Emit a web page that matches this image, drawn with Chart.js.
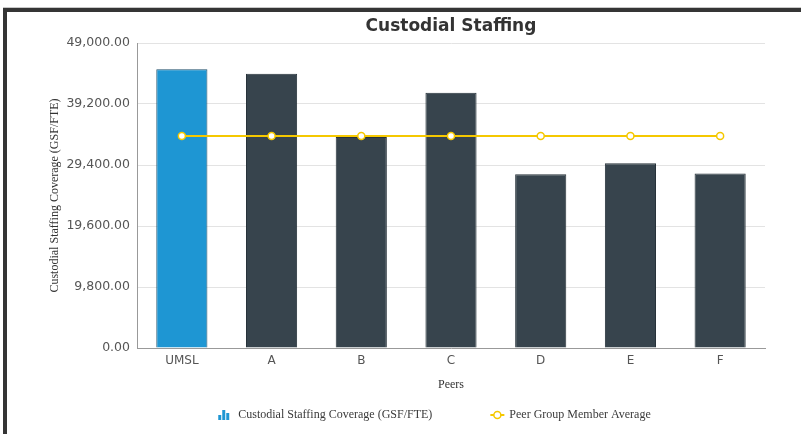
<!DOCTYPE html>
<html>
<head>
<meta charset="utf-8">
<title>Custodial Staffing</title>
<script src="https://cdn.jsdelivr.net/npm/chart.js@4.4.0/dist/chart.umd.min.js"></script>
<style>
    html, body { margin: 0; padding: 0; background: #fff; }
    #edge { position: absolute; left: 3px; top: 7px; width: 798px; height: 1px; background: #c8c8c8; }
    #frame { position: absolute; left: 3px; top: 8px; width: 798px; height: 426px; box-sizing: border-box;
             border-top: 4px solid #353535; border-left: 4px solid #353535; }
    canvas { position: absolute; left: 0; top: 0; }
</style>
</head>
<body>
<div id="edge"></div>
<div id="frame"></div>
<canvas id="myChart" width="801" height="434"></canvas>
<script>
const peers = ['UMSL', 'A', 'B', 'C', 'D', 'E', 'F'];
const coverage = [44800, 44050, 33900, 41000, 27900, 29700, 28050];
const peerAverage = [34050, 34050, 34050, 34050, 34050, 34050, 34050];
const yTicks = [0, 9800, 19600, 29400, 39200, 49000];
const barColors = ['#1e96d3', '#37444d', '#37444d', '#37444d', '#37444d', '#37444d', '#37444d'];
const borderColors = ['#1f4f6b', '#27323a', '#27323a', '#27323a', '#27323a', '#27323a', '#27323a'];

const serif = '"Liberation Serif", "Times New Roman", serif';
const sans = '"DejaVu Sans", Verdana, sans-serif';

// keep title centred over the plot area
const centreTitle = {
    id: 'centreTitle',
    afterLayout(chart) {
        const t = chart.titleBlock;
        const d = (chart.chartArea.left + chart.chartArea.right) / 2 - (t.left + t.right) / 2;
        t.left += d;
        t.right += d;
    }
};

// legend drawn under the axis title
const bottomLegend = {
    id: 'bottomLegend',
    afterDraw(chart) {
        const ctx = chart.ctx;
        const y = 415;
        const t1 = chart.data.datasets[0].label;
        const t2 = chart.data.datasets[1].label;
        ctx.save();
        ctx.font = '12px ' + serif;
        ctx.textBaseline = 'middle';
        const w1 = ctx.measureText(t1).width;
        const w2 = ctx.measureText(t2).width;
        const total = 12 + 8 + w1 + 58 + 14 + 5 + w2;
        let x = 434.5 - total / 2;

        // little bar icon
        ctx.fillStyle = '#1e96d3';
        ctx.fillRect(x, y, 3, 5);
        ctx.fillRect(x + 4, y - 5, 3, 10);
        ctx.fillRect(x + 8, y - 2, 3, 7);
        x += 12 + 8;
        ctx.fillStyle = '#3a3a3a';
        ctx.fillText(t1, x, y);
        x += w1 + 58;

        // line + circle icon
        ctx.strokeStyle = '#f5c800';
        ctx.lineWidth = 2;
        ctx.beginPath();
        ctx.moveTo(x, y);
        ctx.lineTo(x + 14, y);
        ctx.stroke();
        ctx.beginPath();
        ctx.arc(x + 7, y, 3.5, 0, Math.PI * 2);
        ctx.fillStyle = '#fff';
        ctx.fill();
        ctx.lineWidth = 1.5;
        ctx.stroke();
        x += 14 + 5;
        ctx.fillStyle = '#3a3a3a';
        ctx.fillText(t2, x, y);
        ctx.restore();
    }
};

const ctx = document.getElementById('myChart').getContext('2d');
const myChart = new Chart(ctx, {
    data: {
        labels: peers,
        datasets: [{
            type: 'bar',
            label: 'Custodial Staffing Coverage (GSF/FTE)',
            data: coverage,
            backgroundColor: barColors,
            borderColor: borderColors,
            borderWidth: 1,
            barPercentage: 0.57,
            categoryPercentage: 1,
            order: 2
        }, {
            type: 'line',
            label: 'Peer Group Member Average',
            data: peerAverage,
            borderColor: '#f5c800',
            borderWidth: 2,
            pointBackgroundColor: '#fff',
            pointBorderColor: '#f5c800',
            pointBorderWidth: 1.5,
            pointRadius: 3.5,
            order: 1
        }]
    },
    options: {
        responsive: false,
        animation: false,
        layout: { padding: { left: 44, right: 36, top: 0, bottom: 38 } },
        plugins: {
            legend: { display: false },
            tooltip: { enabled: false },
            title: {
                display: true,
                text: 'Custodial Staffing',
                color: '#333',
                font: { family: sans, size: 17, weight: 'bold' },
                padding: { top: 16, bottom: 6.6 }
            }
        },
        scales: {
            x: {
                grid: { display: false, drawTicks: false },
                border: { color: '#999', width: 1 },
                ticks: { color: '#555', font: { family: sans, size: 12 }, padding: 6 },
                title: {
                    display: true,
                    text: 'Peers',
                    color: '#333',
                    font: { family: serif, size: 12 },
                    padding: { top: 4, bottom: 4 }
                },
                afterFit: s => { s.height = 48; }
            },
            y: {
                min: 0,
                max: 49000,
                grid: { color: '#e3e3e3', drawTicks: false },
                border: { color: '#999', width: 1 },
                afterBuildTicks: s => { s.ticks = yTicks.map(v => ({ value: v })); },
                ticks: {
                    color: '#555',
                    font: { family: sans, size: 12.5 },
                    padding: 7,
                    callback: v => v.toLocaleString('en-US', { minimumFractionDigits: 2, maximumFractionDigits: 2 })
                },
                title: {
                    display: true,
                    text: 'Custodial Staffing Coverage (GSF/FTE)',
                    color: '#333',
                    font: { family: serif, size: 12 },
                    padding: { top: 4, bottom: 4 }
                },
                afterFit: s => { s.width = 93; }
            }
        }
    },
    plugins: [centreTitle, bottomLegend]
});
</script>
</body>
</html>
